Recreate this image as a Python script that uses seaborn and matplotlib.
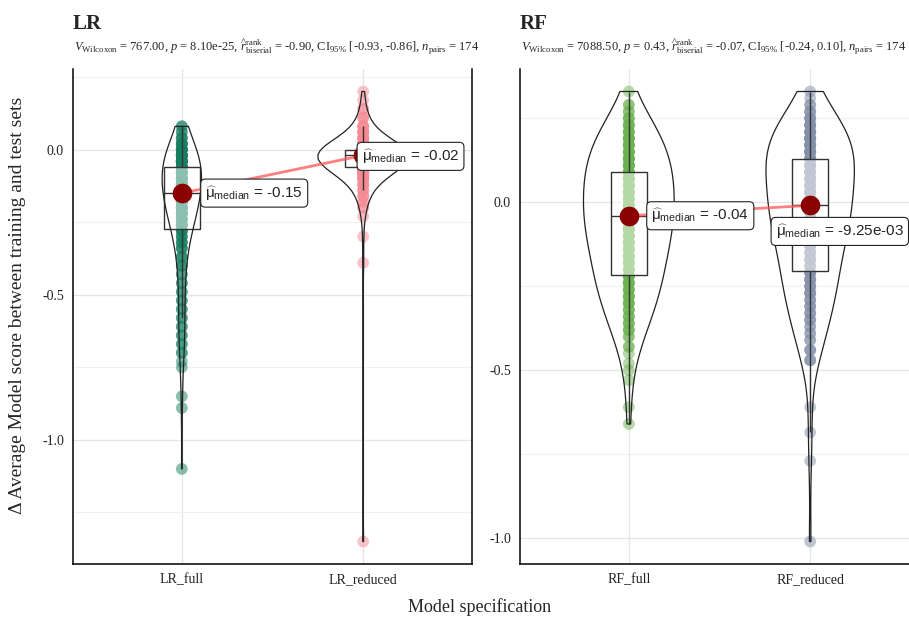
import numpy as np
import pandas as pd
import matplotlib
matplotlib.use("Agg")
import matplotlib.pyplot as plt
import seaborn as sns
from matplotlib.ticker import MultipleLocator

# ---- data (value, count) ----
lr_full_vals = [0.08, 0.06, 0.04, 0.02, 0.0, -0.02, -0.04,
                -0.06, -0.08, -0.10, -0.12, -0.14,
                -0.16, -0.18, -0.20, -0.22, -0.24, -0.26,
                -0.28, -0.30, -0.32, -0.34, -0.37, -0.40, -0.43, -0.46, -0.49,
                -0.52, -0.55, -0.58, -0.61, -0.64, -0.67, -0.70, -0.73, -0.75,
                -0.85, -0.89, -1.10]
lr_full_cnts = [2, 2, 3, 5, 7, 11, 13,
                9, 9, 9, 9, 8,
                9, 8, 8, 7, 6, 5,
                4, 3, 3, 3, 3, 3, 2, 2, 2,
                2, 2, 2, 2, 2, 2, 2, 1, 1,
                1, 1, 1]

lr_red_vals = [0.20, 0.17, 0.14, 0.11, 0.08, 0.06, 0.04, 0.02, 0.01, 0.0,
               -0.01, -0.02, -0.03, -0.04, -0.05, -0.06, -0.07, -0.08, -0.09,
               -0.10, -0.12, -0.14, -0.16, -0.18, -0.20, -0.23, -0.30, -0.39, -1.35]
lr_red_cnts = [1, 1, 2, 3, 4, 5, 6, 8, 10, 13,
               17, 20, 14, 11, 9, 8, 7, 7, 5,
               5, 4, 3, 3, 2, 2, 1, 1, 1, 1]

rf_full_vals = [0.33, 0.29, 0.27, 0.25, 0.23, 0.21, 0.19, 0.17, 0.15, 0.13, 0.11,
                0.09, 0.07, 0.05, 0.03, 0.01, -0.01, -0.02, -0.04,
                -0.06, -0.08, -0.10, -0.12, -0.14, -0.16, -0.18, -0.20,
                -0.22, -0.24, -0.26, -0.28, -0.30, -0.32, -0.34, -0.36, -0.38,
                -0.40, -0.43, -0.45, -0.48, -0.50, -0.53, -0.61, -0.66]
rf_full_cnts = [1, 2, 2, 3, 4, 4, 5, 5, 5, 6, 6,
                6, 6, 6, 6, 5, 5, 5, 6,
                6, 6, 6, 5, 5, 5, 5, 4,
                5, 5, 4, 4, 4, 3, 3, 3, 3,
                2, 2, 1, 1, 1, 1, 1, 1]

rf_red_vals = [0.33, 0.31, 0.29, 0.27, 0.25, 0.23, 0.21, 0.19, 0.17, 0.15,
               0.13, 0.11, 0.09, 0.07, 0.05, 0.03, 0.01, -0.00925,
               -0.03, -0.05, -0.07, -0.09, -0.11, -0.13, -0.15, -0.17, -0.19,
               -0.21, -0.23, -0.25, -0.27, -0.29, -0.31, -0.33, -0.35,
               -0.37, -0.39, -0.41, -0.44, -0.47, -0.61, -0.685, -0.77, -1.01]
rf_red_cnts = [1, 1, 2, 3, 4, 5, 6, 7, 7, 7,
               6, 6, 6, 5, 5, 5, 6, 6,
               6, 6, 5, 5, 5, 4, 4, 4, 3,
               4, 4, 4, 4, 3, 3, 3, 3,
               2, 2, 2, 3, 3, 1, 1, 1, 1]

models = ["LR", "RF"]
specs = {"LR": ["LR_full", "LR_reduced"], "RF": ["RF_full", "RF_reduced"]}
colors = {"LR_full": "#177F60", "LR_reduced": "#F58A94",
          "RF_full": "#6AB24E", "RF_reduced": "#8391A8"}

subtitles = {
    "LR": r"$V_{\mathrm{Wilcoxon}}$ = 767.00, $p$ = 8.10e-25, "
          r"$\widehat{r}_{\mathrm{biserial}}^{\mathrm{rank}}$ = -0.90, "
          r"CI$_{\mathrm{95\%}}$ [-0.93, -0.86], $n_{\mathrm{pairs}}$ = 174",
    "RF": r"$V_{\mathrm{Wilcoxon}}$ = 7088.50, $p$ = 0.43, "
          r"$\widehat{r}_{\mathrm{biserial}}^{\mathrm{rank}}$ = -0.07, "
          r"CI$_{\mathrm{95\%}}$ [-0.24, 0.10], $n_{\mathrm{pairs}}$ = 174",
}

# label box offsets from the median point (pixels: box left, box centre y)
label_offsets = {"LR_full": (19, 0), "LR_reduced": (-6, -1),
                 "RF_full": (18, 0), "RF_reduced": (-39, -26)}


def build_frame():
    rows = []
    for name, vals, cnts in [("LR_full", lr_full_vals, lr_full_cnts),
                             ("LR_reduced", lr_red_vals, lr_red_cnts),
                             ("RF_full", rf_full_vals, rf_full_cnts),
                             ("RF_reduced", rf_red_vals, rf_red_cnts)]:
        v = np.repeat(vals, cnts)
        rows.append(pd.DataFrame({"spec": name, "model": name[:2], "value": v}))
    return pd.concat(rows, ignore_index=True)


def fmt_median(m):
    if abs(m) < 0.01:
        return f"{m:.2e}"
    return f"{m:.2f}"


def snapshot(ax):
    return {k: list(getattr(ax, k)) for k in ("collections", "patches", "lines")}


def new_artists(ax, before):
    out = []
    for kind in ("collections", "patches", "lines"):
        out += [a for a in getattr(ax, kind) if a not in before[kind]]
    return out


def draw_panel(ax, d, model):
    order = specs[model]

    snap = snapshot(ax)
    sns.stripplot(data=d, x="spec", y="value", hue="spec", order=order,
                  palette=colors, jitter=False, size=8.5, alpha=0.5,
                  linewidth=0, legend=False, ax=ax)
    for a in new_artists(ax, snap):
        a.set_zorder(2)

    snap = snapshot(ax)
    sns.boxplot(data=d, x="spec", y="value", order=order, width=0.2,
                showfliers=False, showcaps=False, color="white",
                linecolor="#333333", linewidth=1.0,
                boxprops=dict(facecolor=(1, 1, 1, 0.5)), ax=ax)
    for a in new_artists(ax, snap):
        a.set_zorder(3)

    snap = snapshot(ax)
    sns.violinplot(data=d, x="spec", y="value", order=order, fill=False,
                   inner=None, density_norm="area", width=0.5, cut=0,
                   bw_method="silverman", color="#222222", linewidth=0.9, ax=ax)
    for a in new_artists(ax, snap):
        a.set_zorder(4)

    meds = d.groupby("spec")["value"].median().reindex(order)
    xs = np.arange(len(order))
    ax.plot(xs, meds.values, color="#FF5555", alpha=0.75, lw=2, zorder=5)
    ax.scatter(xs, meds.values, s=200, color="#8B0000", zorder=6, linewidth=0)

    for x, name in zip(xs, order):
        m = meds[name]
        dx, dy = label_offsets[name]
        pad_px = 4.5
        ax.annotate(r"$\widehat{\mathsf{\mu}}_{\mathsf{median}}$" + f" = {fmt_median(m)}",
                    xy=(x, m), xytext=((dx + pad_px) * 0.72, dy * 0.72),
                    textcoords="offset points", ha="left", va="center",
                    fontsize=11, family="Liberation Sans", zorder=7,
                    bbox=dict(boxstyle="round,pad=0.3", fc="white",
                              ec="#222222", lw=0.8))

    vals = d["value"]
    lo, hi = vals.min(), vals.max()
    ex = (hi - lo) * 0.05
    ax.set_ylim(lo - ex, hi + ex)
    ax.set_xlim(-0.6, len(order) - 0.4)

    ax.yaxis.set_major_locator(MultipleLocator(0.5))
    ax.yaxis.set_minor_locator(MultipleLocator(0.25))
    ax.yaxis.set_major_formatter(matplotlib.ticker.FormatStrFormatter("%.1f"))
    ax.grid(True, which="major", color="#E6E6E6", lw=1.0, zorder=0)
    ax.grid(True, which="minor", axis="y", color="#F0F0F0", lw=0.8, zorder=0)
    ax.set_axisbelow(True)
    ax.tick_params(which="minor", length=0)
    ax.tick_params(which="major", length=3, color="#333333", labelsize=10,
                   labelcolor="#222222")
    for lab in ax.get_xticklabels() + ax.get_yticklabels():
        lab.set_family("Liberation Serif")
    ax.set_xlabel("")
    ax.set_ylabel("")
    for side in ("left", "bottom", "right"):
        ax.spines[side].set_color("black")
        ax.spines[side].set_linewidth(1.1)
    ax.spines["top"].set_visible(False)


def main():
    sns.set_style("white")
    plt.rcParams["font.family"] = ["Liberation Serif", "DejaVu Serif"]
    plt.rcParams["mathtext.fontset"] = "custom"
    plt.rcParams["mathtext.rm"] = "Liberation Serif"
    plt.rcParams["mathtext.it"] = "Liberation Serif:italic"
    plt.rcParams["mathtext.bf"] = "Liberation Serif:bold"
    plt.rcParams["mathtext.sf"] = "Liberation Sans"

    df = build_frame()

    W, H = 909, 617
    fig = plt.figure(figsize=(W / 100, H / 100), dpi=100)
    lefts = [73, 520]
    for model, left in zip(models, lefts):
        ax = fig.add_axes([left / W, 1 - 564 / H, 399 / W, 495 / H])
        draw_panel(ax, df[df["model"] == model], model)
        fig.text(left / W, 1 - 29 / H, model, fontsize=15, fontweight="bold",
                 va="baseline", ha="left")
        fig.text((left + 1) / W, 1 - 51 / H, subtitles[model], fontsize=9,
                 va="baseline", ha="left")

    fig.text(18 / W, 1 - 305 / H, "\u0394 Average Model score between training and test sets",
             rotation=90, fontsize=14, va="center", ha="center")
    fig.text(480 / W, 1 - 607 / H, "Model specification", fontsize=13,
             va="center", ha="center")

    fig.savefig("out.png", dpi=100)


if __name__ == "__main__":
    main()
